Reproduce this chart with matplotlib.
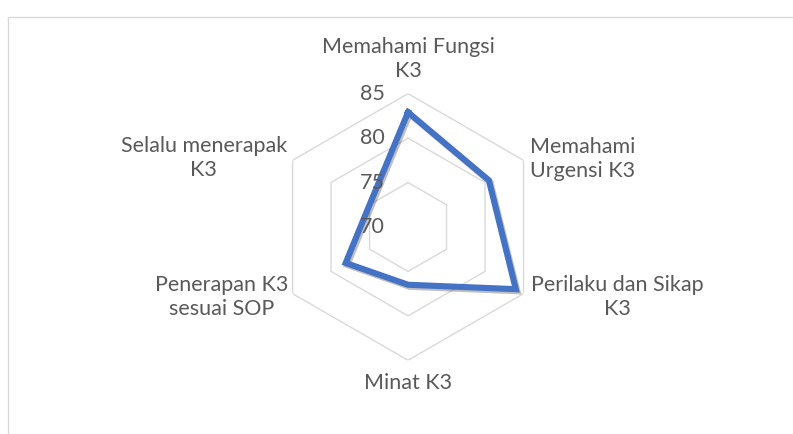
import numpy as np
import matplotlib
matplotlib.use("Agg")
import matplotlib.pyplot as plt
import matplotlib.patheffects as pe
from matplotlib.patches import Rectangle

categories = ["Memahami Fungsi\nK3", "Memahami\nUrgensi K3", "Perilaku dan Sikap\nK3",
              "Minat K3", "Penerapan K3\nsesuai SOP", "Selalu menerapak\nK3"]
values = [82.9, 80.5, 84.0, 76.5, 78.1, 75.0]
r_ticks = [70, 75, 80, 85]
r_min, r_max = 70, 85

TEXT = "#595959"
GRID = "#D9D9D9"
LINE = "#4472C4"
FONT = "Lato"
FS = 15.5

fig = plt.figure(figsize=(7.93, 4.34), dpi=100)
fig.patch.set_facecolor("white")

# chart-area border (partially visible)
fig.add_artist(Rectangle((8 / 793, -0.2), 1.2, (434 - 17) / 434 + 0.2,
                         transform=fig.transFigure, fill=False,
                         edgecolor=GRID, lw=1.0))

ax = fig.add_axes([0.3464, 0.1698, 0.3363, 0.6145], projection="polar")
ax.set_theta_offset(np.pi / 2)
ax.set_theta_direction(-1)
ax.set_ylim(r_min, r_max)
ax.grid(False)
ax.spines["polar"].set_visible(False)
ax.set_xticks([])
ax.set_yticks([])
ax.patch.set_alpha(0)

n = len(categories)
angles = np.arange(n) * 2 * np.pi / n
closed = np.append(angles, angles[0])

# hexagonal gridlines
for r in r_ticks[1:]:
    ax.plot(closed, [r] * (n + 1), color=GRID, lw=1.0, zorder=1)

# data
vals = np.append(values, values[0])
ax.plot(closed, vals, color=LINE, lw=4.4, solid_joinstyle="miter", zorder=3,
        path_effects=[pe.SimpleLineShadow(offset=(1.2, -1.5), shadow_color="black", alpha=0.25),
                      pe.Normal()])

# radial tick labels
for r in r_ticks:
    ax.annotate(str(r), xy=(0, r), xytext=(-17, 0), textcoords="offset points",
                ha="right", va="center", fontsize=FS, color=TEXT, family=FONT,
                annotation_clip=False, zorder=4)

# category labels
offsets = [(0, 25), (4.8, 1.0), (5.5, -2.7), (0, -16.3), (-3.3, -2.7), (-4.0, 1.3)]
has = ["center", "left", "left", "center", "right", "right"]
for ang, lab, off, ha in zip(angles, categories, offsets, has):
    ax.annotate(lab, xy=(ang, r_max), xytext=off, textcoords="offset points",
                ha=ha, va="center", multialignment="center", fontsize=FS,
                color=TEXT, family=FONT, annotation_clip=False, linespacing=1.25)

fig.savefig("out.png", dpi=100, facecolor="white")
